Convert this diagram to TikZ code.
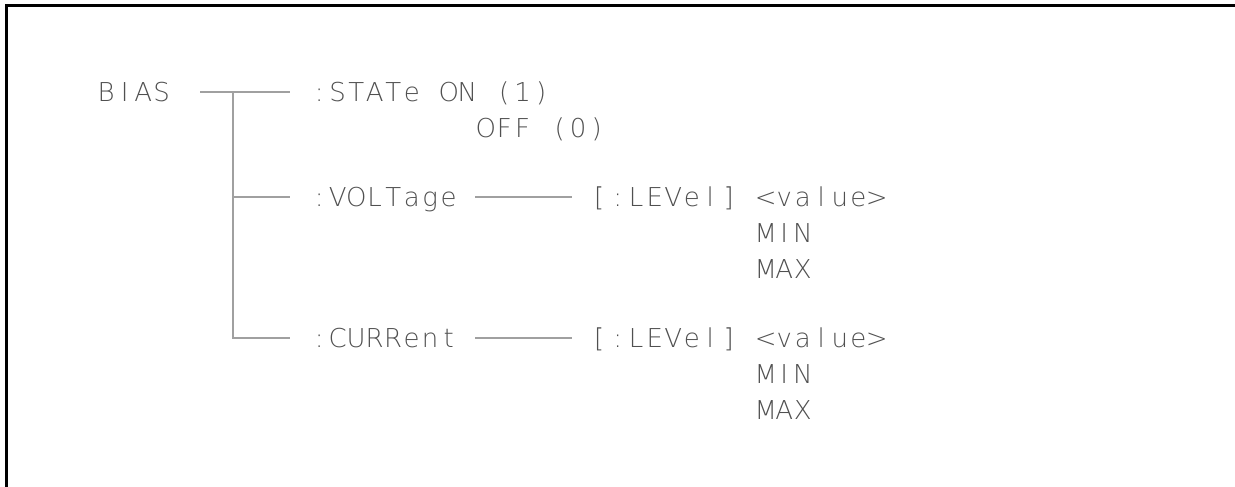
\documentclass[tikz,border=0pt]{standalone}
\usepackage{fontspec}
\IfFontExistsTF{DejaVu Sans ExtraLight}
  {\newfontfamily\treefont{DejaVu Sans ExtraLight}\definecolor{txt}{HTML}{505050}}
  {\newfontfamily\treefont{DejaVu Sans}\definecolor{txt}{HTML}{8A8A8A}}
\definecolor{linecol}{HTML}{A0A0A0}
\newlength\pitch
\setlength\pitch{18.5pt}
\def\mtextend{\mtextend}
\def\mchar#1{\makebox[\pitch][c]{#1}}
\def\mtext#1{\mtextloop#1\mtextend}
\def\mtextloop#1{\ifx#1\mtextend\else\mchar{#1}\expandafter\mtextloop\fi}
\tikzset{
  lbl/.style={anchor=base west, inner sep=0pt, outer sep=0pt, text=txt,
    font=\treefont\fontsize{26}{30}\selectfont},
  tree/.style={draw=linecol, line width=1.6pt},
  frame/.style={draw=black, line width=3pt}
}
\begin{document}
\begin{tikzpicture}[x=1pt,y=-1pt]
\useasboundingbox (0,0) rectangle (1235,487);
% frame (top and left edges)
\coordinate (fbl) at (6.5,487);
\coordinate (ftl) at (6.5,5.5);
\coordinate (ftr) at (1235,5.5);
\draw[frame] (fbl) -- (ftl) -- (ftr);
% text
\node[lbl] (bias)  at (97,101.5)    {\mtext{BIAS}};
\node[lbl] (state) at (310,101.5)   {\mtext{:STATe~ON~(1)}};
\node[lbl] (off)   at (476.5,137.5) {\mtext{OFF~(0)}};
\node[lbl] (volt)  at (310,206.5)   {\mtext{:VOLTage}};
\node[lbl] (vlev)  at (590,206.5)   {\mtext{[:LEVel]~<value>}};
\node[lbl] (vmin)  at (756.5,242.5) {\mtext{MIN}};
\node[lbl] (vmax)  at (756.5,278.5) {\mtext{MAX}};
\node[lbl] (curr)  at (310,347.5)   {\mtext{:CURRent}};
\node[lbl] (clev)  at (590,347.5)   {\mtext{[:LEVel]~<value>}};
\node[lbl] (cmin)  at (756.5,383.5) {\mtext{MIN}};
\node[lbl] (cmax)  at (756.5,419.5) {\mtext{MAX}};
% connector points
\coordinate (t0) at (200,92);
\coordinate (j1) at (233,92);
\coordinate (j2) at (233,197);
\coordinate (j3) at (233,338);
\coordinate (e1) at (290,92);
\coordinate (e2) at (290,197);
\coordinate (e3) at (290,338);
\coordinate (v0) at (475,197);
\coordinate (v1) at (572,197);
\coordinate (c0) at (475,338);
\coordinate (c1) at (572,338);
% tree
\draw[tree] (t0) -- (e1);
\draw[tree] (j1) -- (j3) -- (e3);
\draw[tree] (j2) -- (e2);
\draw[tree] (v0) -- (v1);
\draw[tree] (c0) -- (c1);
\end{tikzpicture}
\end{document}
